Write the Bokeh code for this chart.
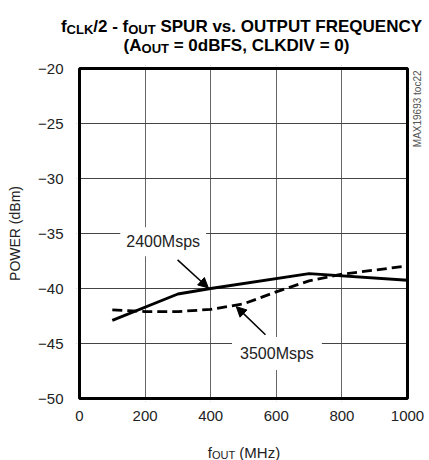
import math
from bokeh.plotting import figure
from bokeh.models import Label, Arrow, NormalHead, Range1d, ColumnDataSource
from bokeh.layouts import column
from bokeh.core.properties import value
from bokeh.embed import file_html
from bokeh.resources import INLINE

# ---- data ----
freq_2400 = [100, 300, 400, 700, 1000]
pwr_2400 = [-42.9, -40.5, -40.0, -38.65, -39.25]

freq_3500 = [100, 200, 300, 400, 500, 600, 700, 800, 1000]
pwr_3500 = [-41.95, -42.1, -42.1, -41.9, -41.4, -40.3, -39.3, -38.7, -37.95]

x_ticks = [0, 200, 400, 600, 800, 1000]
y_ticks = [-50, -45, -40, -35, -30, -25, -20]

series_names = ["2400Msps", "3500Msps"]

# title pieces (text, font size, subscript?)
title_line1 = [("f", 17, False), ("CLK", 13, True), ("/2 - f", 17, False),
               ("OUT", 13, True), (" SPUR vs. OUTPUT FREQUENCY", 17, False)]
title_line2 = [("(A", 17, False), ("OUT", 13, True),
               (" = 0dBFS, CLKDIV = 0)", 17, False)]
xlabel_parts = [("f", 15, False), ("OUT", 11, True), (" (MHz)", 15, False)]
ylabel_text = "POWER (dBm)"
code_text = "MAX19693 toc22"

FONT = "Liberation Sans"
TOTAL_W = 429

# approximate Arial/Liberation advance widths (em) for laying out the pieces
_W_BOLD = {"f": .333, "C": .722, "L": .611, "K": .722, "/": .278, "2": .556,
           " ": .278, "-": .333, "O": .778, "U": .722, "T": .611, "S": .667,
           "P": .667, "R": .722, "v": .556, "s": .556, ".": .278, "F": .611,
           "E": .667, "Q": .778, "N": .722, "Y": .667, "(": .333, "A": .722,
           "=": .584, "0": .556, "d": .611, "B": .722, ",": .278, "D": .722,
           "I": .278, "V": .667, ")": .333}
_W_REG = {"f": .278, "O": .778, "U": .722, "T": .611, " ": .278, "(": .333,
          "M": .833, "H": .722, "z": .5, ")": .333}


def width(txt, size, table):
    return sum(table.get(c, .6) for c in txt) * size


def layout_pieces(parts, center_x, base_y, table, sub_drop):
    total = sum(width(t, s, table) for t, s, _ in parts)
    x = center_x - total / 2
    xs, ys, texts, sizes = [], [], [], []
    for t, s, sub in parts:
        shown = t.lstrip(" ")
        lead = width(t[:len(t) - len(shown)], s, table)
        xs.append(x + lead)
        ys.append(base_y - sub_drop if sub else base_y)
        texts.append(shown)
        sizes.append(f"{s}px")
        x += width(t, s, table)
    return xs, ys, texts, sizes


def blank_fig(w, h):
    f = figure(width=w, height=h, x_range=Range1d(0, w), y_range=Range1d(0, h),
               output_backend="svg", toolbar_location=None,
               x_axis_type=None, y_axis_type=None,
               min_border_left=0, min_border_right=0,
               min_border_top=0, min_border_bottom=0)
    f.frame_align = False
    f.grid.visible = False
    f.outline_line_color = None
    f.background_fill_color = "white"
    f.border_fill_color = "white"
    return f


# ---- title figure (y 0..60) ----
TITLE_H = 60
tf = blank_fig(TOTAL_W, TITLE_H)
l1 = layout_pieces(title_line1, 241, 34, _W_BOLD, 3)
l2 = layout_pieces(title_line2, 236, 15, _W_BOLD, 3)
tsrc = ColumnDataSource(dict(x=l1[0] + l2[0], y=l1[1] + l2[1],
                             text=l1[2] + l2[2], size=l1[3] + l2[3]))
tf.text(x="x", y="y", text="text", source=tsrc, text_font=value(FONT),
        text_font_size="size", text_font_style="bold", text_color="black",
        text_align="left", text_baseline="alphabetic")

# ---- main figure (y 60..432) ----
MAIN_H = 372
PX_X = 0.328      # pixels per MHz
PX_Y = 11.0       # pixels per dB
PAD = 3           # frame padding (px) so the thick border is not clipped
X0_PX = 79        # where x = 0 sits
FRAME_L = X0_PX - PAD
x_lo = x_ticks[0] - PAD / PX_X
x_hi = x_ticks[0] + (TOTAL_W - X0_PX) / PX_X
y_lo = y_ticks[0] - PAD / PX_Y
y_hi = y_ticks[-1] + PAD / PX_Y

p = figure(width=TOTAL_W, height=MAIN_H,
           x_range=Range1d(x_lo, x_hi), y_range=Range1d(y_lo, y_hi),
           output_backend="svg", toolbar_location=None,
           min_border_left=FRAME_L, min_border_right=0,
           min_border_top=5, min_border_bottom=31)
p.frame_align = False
p.outline_line_color = None
p.background_fill_color = "white"
p.border_fill_color = "white"

for ax in (p.xaxis, p.yaxis):
    ax.axis_line_color = None
    ax.major_tick_line_color = None
    ax.minor_tick_line_color = None
    ax.major_tick_in = 0
    ax.major_tick_out = 0
    ax.major_label_text_font = FONT
    ax.major_label_text_font_size = "15px"
    ax.major_label_text_color = "#222222"

p.xaxis.ticker = x_ticks
p.yaxis.ticker = y_ticks
p.xaxis.major_label_standoff = 9
p.yaxis.major_label_standoff = 13

p.yaxis.axis_label = ylabel_text
p.yaxis.axis_label_text_font = FONT
p.yaxis.axis_label_text_font_size = "14px"
p.yaxis.axis_label_text_font_style = "normal"
p.yaxis.axis_label_text_color = "#222222"
p.yaxis.axis_label_standoff = 12

p.xgrid.ticker = x_ticks[1:-1]
p.ygrid.ticker = y_ticks[1:-1]
p.xgrid.grid_line_color = "#666666"
p.ygrid.grid_line_color = "#444444"
p.xgrid.grid_line_width = 1
p.ygrid.grid_line_width = 1

# keep the grid inside the box, then draw the thick box itself
xa, xb = x_ticks[0], x_ticks[-1]
ya, yb = y_ticks[0], y_ticks[-1]
p.quad(left=[x_lo, xb, x_lo, x_lo], right=[xa, x_hi, x_hi, x_hi],
       bottom=[y_lo, y_lo, y_lo, yb], top=[y_hi, y_hi, ya, y_hi],
       fill_color="white", line_color=None)
p.quad(left=[xa], right=[xb], bottom=[ya], top=[yb],
       fill_color=None, line_color="black", line_width=3)

p.line(freq_2400, pwr_2400, line_color="black", line_width=2.8)
p.line(freq_3500, pwr_3500, line_color="black", line_width=2.8, line_dash="10 5")

p.add_layout(Label(x=255, y=-35.75, text=series_names[0], text_font=FONT,
                   text_font_size="16px", text_color="#222222",
                   text_align="center", text_baseline="middle",
                   background_fill_color="white", padding=6))
p.add_layout(Label(x=602, y=-45.9, text=series_names[1], text_font=FONT,
                   text_font_size="16px", text_color="#222222",
                   text_align="center", text_baseline="middle",
                   background_fill_color="white", padding=8))

p.add_layout(Arrow(end=NormalHead(size=10, fill_color="black", line_color="black"),
                   x_start=299, y_start=-37.4, x_end=393, y_end=-39.95,
                   line_color="black", line_width=1.5))
p.add_layout(Arrow(end=NormalHead(size=10, fill_color="black", line_color="black"),
                   x_start=567, y_start=-44.2, x_end=478, y_end=-41.65,
                   line_color="black", line_width=1.5))

# part code written alongside the right edge, reading upwards
p.add_layout(Label(x=1030.5, y=-20.18, text=code_text, text_font=FONT,
                   text_font_size="10px", text_color="#555555",
                   text_align="right", text_baseline="middle",
                   angle=math.pi / 2))

# ---- x-axis label strip (y 432..460) ----
XL_H = 28
xf = blank_fig(TOTAL_W, XL_H)
xl = layout_pieces(xlabel_parts, 243.5, 8, _W_REG, 2.5)
xsrc = ColumnDataSource(dict(x=xl[0], y=xl[1], text=xl[2], size=xl[3]))
xf.text(x="x", y="y", text="text", source=xsrc, text_font=value(FONT),
        text_font_size="size", text_color="#222222",
        text_align="left", text_baseline="alphabetic")

layout = column(tf, p, xf)
open("out.html", "w").write(file_html(layout, INLINE))
